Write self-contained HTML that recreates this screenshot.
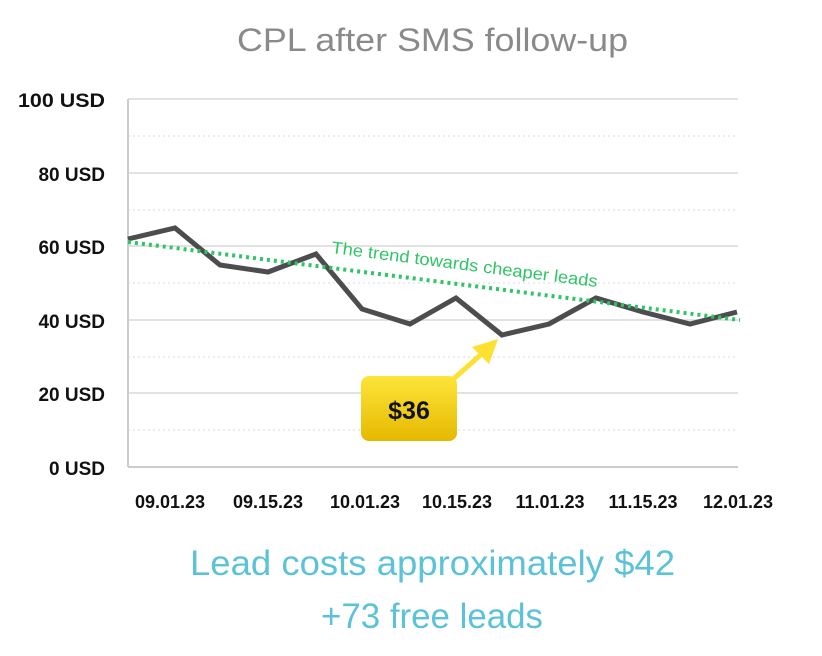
<!DOCTYPE html><html><head><style>body{margin:0;background:#fff;width:822px;height:651px;overflow:hidden}</style></head><body>
<svg width="822" height="651" xmlns="http://www.w3.org/2000/svg" font-family="Liberation Sans, sans-serif">
<defs><linearGradient id="g" x1="0" y1="0" x2="0" y2="1"><stop offset="0" stop-color="#fde53a"/><stop offset="1" stop-color="#e6b800"/></linearGradient></defs>
<text x="237" y="51" textLength="391" lengthAdjust="spacingAndGlyphs" font-size="32" fill="#8a8a8a">CPL after SMS follow-up</text>
<g stroke="#d8d8d8" stroke-width="1.5"><line x1="128" x2="738" y1="99" y2="99"/><line x1="128" x2="738" y1="173" y2="173"/><line x1="128" x2="738" y1="246" y2="246"/><line x1="128" x2="738" y1="320" y2="320"/><line x1="128" x2="738" y1="393" y2="393"/></g>
<g stroke="#d8d8d8" stroke-width="1" stroke-dasharray="2 3"><line x1="128" x2="738" y1="136" y2="136"/><line x1="128" x2="738" y1="210" y2="210"/><line x1="128" x2="738" y1="283" y2="283"/><line x1="128" x2="738" y1="357" y2="357"/><line x1="128" x2="738" y1="430" y2="430"/></g>
<line x1="128" y1="99" x2="128" y2="467" stroke="#ccc" stroke-width="2"/>
<line x1="128" y1="467" x2="738" y2="467" stroke="#ccc" stroke-width="2"/>
<g font-size="19" font-weight="bold" fill="#111" text-anchor="end"><text x="105" y="107" textLength="87" lengthAdjust="spacingAndGlyphs">100 USD</text><text x="105" y="181">80 USD</text><text x="105" y="254">60 USD</text><text x="105" y="328">40 USD</text><text x="105" y="401">20 USD</text><text x="105" y="475">0 USD</text></g>
<g font-size="18" font-weight="bold" fill="#111" text-anchor="middle"><text x="170" y="508">09.01.23</text><text x="268" y="508">09.15.23</text><text x="365" y="508">10.01.23</text><text x="457" y="508">10.15.23</text><text x="550" y="508">11.01.23</text><text x="643" y="508">11.15.23</text><text x="738" y="508">12.01.23</text></g>
<polyline fill="none" stroke="#4d4d4f" stroke-width="5" stroke-linejoin="miter" points="128,239 175,228 220,265 268,272 316,254 362,309 410,324 456,298 502,335 549,324 596,298 643,312 690,324 737,312"/>
<line x1="128" y1="242" x2="740" y2="320" stroke="#2ec566" stroke-width="4" stroke-dasharray="3 4"/>
<text x="331" y="253" font-size="17" fill="#2ec566" textLength="268" lengthAdjust="spacingAndGlyphs" transform="rotate(7.3 331 253)">The trend towards cheaper leads</text>
<line x1="450" y1="382" x2="485" y2="351" stroke="#fde030" stroke-width="5"/>
<polygon points="498,339 472,347 489,364" fill="#fde030"/>
<rect x="361" y="376" width="96" height="65" rx="8" fill="url(#g)"/>
<text x="409" y="419" text-anchor="middle" font-size="25" font-weight="bold" fill="#111">$36</text>
<text x="190" y="575" textLength="485" lengthAdjust="spacingAndGlyphs" font-size="35" fill="#5bc2d8">Lead costs approximately $42</text>
<text x="321" y="628" textLength="222" lengthAdjust="spacingAndGlyphs" font-size="35" fill="#5bc2d8">+73 free leads</text>
</svg></body></html>
